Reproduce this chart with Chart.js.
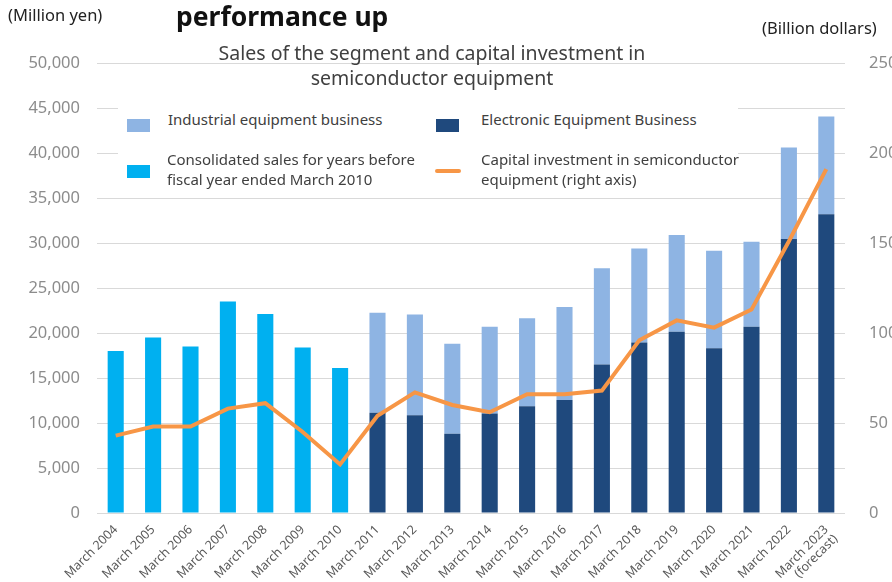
<!DOCTYPE html>
<html>
<head>
<meta charset="utf-8">
<script src="https://cdn.jsdelivr.net/npm/chart.js@4/dist/chart.umd.min.js"></script>
<style>
  html, body { margin: 0; padding: 0; background: #fff; }
  #wrap { position: relative; width: 892px; height: 582px; font-family: "Noto Sans", sans-serif; color: #404040; }
  canvas { position: absolute; left: 0; top: 0; }
  .txt { position: absolute; white-space: nowrap; line-height: 1; }
  #legend { position: absolute; left: 118px; top: 92px; width: 620px; height: 103px; background: #fff; }
  .sw { position: absolute; width: 23px; height: 13px; }
  .lt { position: absolute; font-size: 15px; line-height: 20px; white-space: nowrap; color: #404040; }
</style>
</head>
<body>
<div id="wrap">
  <canvas id="chart" width="892" height="582"></canvas>
  <div class="txt" style="left:8px; top:7px; font-size:16.5px; color:#222;">(Million yen)</div>
  <div class="txt" style="left:176px; top:3px; font-size:26.5px; font-weight:bold; color:#111;">performance up</div>
  <div class="txt" style="left:762px; top:20px; font-size:16.5px; color:#222;">(Billion dollars)</div>
  <div class="txt" style="left:0; width:864px; top:40px; font-size:19.5px; text-align:center; line-height:25px; color:#404040;">Sales of the segment and capital investment in<br>semiconductor equipment</div>
  <div id="legend">
    <div class="sw" style="left:9px; top:27px; background:#8EB4E3;"></div>
    <div class="lt" style="left:50px; top:17px;">Industrial equipment business</div>
    <div class="sw" style="left:318px; top:27px; background:#1F497D;"></div>
    <div class="lt" style="left:363px; top:17px;">Electronic Equipment Business</div>
    <div class="sw" style="left:9px; top:73px; background:#00B0F0;"></div>
    <div class="lt" style="left:49px; top:57px;">Consolidated sales for years before<br>fiscal year ended March 2010</div>
    <div class="sw" style="left:317px; top:77px; height:4px; border-radius:2px; width:26px; background:#F79646;"></div>
    <div class="lt" style="left:363px; top:57px;">Capital investment in semiconductor<br>equipment (right axis)</div>
  </div>
</div>
<script>
// ── Data ────────────────────────────────────────────────────────────────────
const years = [
  'March 2004', 'March 2005', 'March 2006', 'March 2007', 'March 2008',
  'March 2009', 'March 2010', 'March 2011', 'March 2012', 'March 2013',
  'March 2014', 'March 2015', 'March 2016', 'March 2017', 'March 2018',
  'March 2019', 'March 2020', 'March 2021', 'March 2022', ['March 2023', '(forecast)'],
];

// million yen
const consolidatedSales = [18000, 19500, 18500, 23500, 22100, 18400, 16100,
  null, null, null, null, null, null, null, null, null, null, null, null, null];
const electronicSales = [null, null, null, null, null, null, null,
  11150, 10850, 8800, 11050, 11850, 12550, 16500, 18950, 20150, 18300, 20700, 30450, 33200];
const industrialSales = [null, null, null, null, null, null, null,
  11100, 11200, 10000, 9650, 9800, 10350, 10700, 10450, 10750, 10850, 9450, 10150, 10850];

// billion dollars (right axis)
const semiCapex = [43, 48, 48, 58, 61, 45, 27, 54, 67, 60, 56, 66, 66, 68,
  96, 107, 103, 113, 151, 191];

const leftTicks  = [0, 5000, 10000, 15000, 20000, 25000, 30000, 35000, 40000, 45000, 50000];
const rightTicks = [0, 50, 100, 150, 200, 250];

const COLORS = {
  consolidated: '#00B0F0',
  electronic  : '#1F497D',
  industrial  : '#8EB4E3',
  capex       : '#F79646',
  grid        : '#D9D9D9',
  tick        : '#8C8C8C',
  label       : '#595959',
};

function barSet(label, data, color) {
  return {
    type            : 'bar',
    label,
    data,
    backgroundColor : color,
    yAxisID         : 'y',
    stack           : 'sales',
    categoryPercentage: 1,
    barPercentage   : 0.43,
    order           : 2,
  };
}

new Chart(document.getElementById('chart'), {
  data: {
    labels: years,
    datasets: [
      {
        type        : 'line',
        label       : 'Capital investment in semiconductor equipment (right axis)',
        data        : semiCapex,
        borderColor : COLORS.capex,
        borderWidth : 4,
        pointRadius : 0,
        tension     : 0,
        yAxisID     : 'y1',
        order       : 1,
      },
      barSet('Consolidated sales for years before fiscal year ended March 2010', consolidatedSales, COLORS.consolidated),
      barSet('Electronic Equipment Business', electronicSales, COLORS.electronic),
      barSet('Industrial equipment business', industrialSales, COLORS.industrial),
    ],
  },
  options: {
    responsive: false,
    animation : false,
    layout    : { padding: { top: 63, left: 0, right: 0, bottom: 0 } },
    plugins   : { legend: { display: false }, tooltip: { enabled: false } },
    scales: {
      x: {
        stacked: true,
        grid   : { display: false },
        border : { display: false },
        ticks  : {
          color: COLORS.label, font: { family: 'Noto Sans', size: 12.5, lineHeight: 1.05 },
          minRotation: 45, maxRotation: 45, padding: 2, autoSkip: false,
        },
        afterFit: s => { s.height = 69; },
      },
      y: {
        stacked: true,
        min: 0, max: 50000,
        afterBuildTicks: s => { s.ticks = leftTicks.map(v => ({ value: v })); },
        grid  : { color: COLORS.grid, drawTicks: false },
        border: { display: false },
        ticks : {
          color: COLORS.tick, font: { family: 'Noto Sans', size: 16.5 }, padding: 17,
          callback: v => v.toLocaleString('en-US'),
        },
        afterFit: s => { s.width = 97; },
      },
      y1: {
        position: 'right',
        min: 0, max: 250,
        afterBuildTicks: s => { s.ticks = rightTicks.map(v => ({ value: v })); },
        grid  : { display: false },
        border: { display: false },
        ticks : { color: COLORS.tick, font: { family: 'Noto Sans', size: 16.5 }, padding: 16 },
        afterFit: s => { s.width = 47; },
      },
    },
  },
});
</script>
</body>
</html>
